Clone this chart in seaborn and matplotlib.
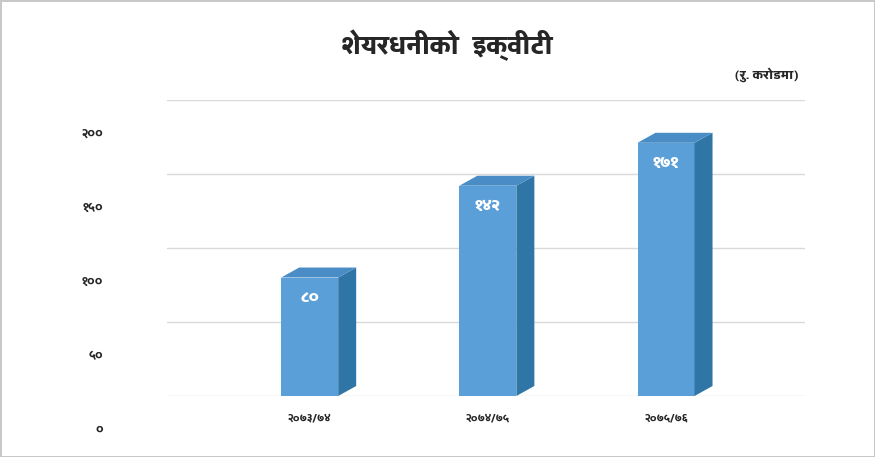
import matplotlib
matplotlib.use('Agg')
import matplotlib.pyplot as plt
import seaborn as sns
import pandas as pd
from matplotlib.patches import Polygon
from matplotlib.transforms import IdentityTransform, ScaledTranslation
from matplotlib.ticker import FuncFormatter

# data
years = ['२०७३/७४', '२०७४/७५', '२०७५/७६']
equity = [80, 142, 171]
y_ticks = [0, 50, 100, 150, 200]

title = 'शेयरधनीको  इक्वीटी'
unit = '(रु. करोडमा)'

nep = str.maketrans('0123456789', '०१२३४५६७८९')

def to_nep(v):
    return str(int(round(v))).translate(nep)

sns.set_style('white')
plt.rcParams['font.family'] = ['Yantramanav', 'Noto Sans Devanagari', 'DejaVu Sans']
plt.rcParams['font.weight'] = 'bold'

front = '#5b9fd8'
side = '#2f76a6'
top = '#4a8dc6'

df = pd.DataFrame({'year': years, 'equity': equity})

fig = plt.figure(figsize=(8.75, 4.57), dpi=100)
fig.patch.set_edgecolor('#c8c8c8')
fig.patch.set_linewidth(2)
ax = fig.add_axes([0.191, 0.1335, 0.729, 0.648])

sns.barplot(data=df, x='year', y='equity', color=front, saturation=1,
            width=0.32, linewidth=0, edgecolor='none', ax=ax, zorder=3)

ax.set_xlim(-0.80, 2.78)
ax.set_ylim(0, 200)
ax.set_yticks(y_ticks)
ax.yaxis.set_major_formatter(FuncFormatter(lambda v, p: to_nep(v)))
ax.grid(axis='y', color='#d9d9d9', linewidth=1, zorder=0)
ax.set_axisbelow(True)
sns.despine(ax=ax, left=True, bottom=True)
ax.set_xlabel('')
ax.set_ylabel('')
ax.tick_params(axis='y', length=0, pad=46, labelsize=10)
ax.tick_params(axis='x', length=0, pad=12, labelsize=9)

# fake 3D depth on each bar
dx, dy = 18, 10
for p in ax.patches:
    x0, y0 = p.get_x(), p.get_y()
    x1, y1 = x0 + p.get_width(), y0 + p.get_height()
    (a0, b0), (a1, b1) = ax.transData.transform([(x0, y0), (x1, y1)])
    side_pts = [(a1, b0), (a1, b1), (a1 + dx, b1 + dy), (a1 + dx, b0 + dy)]
    top_pts = [(a0, b1), (a1, b1), (a1 + dx, b1 + dy), (a0 + dx, b1 + dy)]
    ax.add_patch(Polygon(side_pts, closed=True, facecolor=side, edgecolor='none',
                         transform=IdentityTransform(), clip_on=False, zorder=4))
    ax.add_patch(Polygon(top_pts, closed=True, facecolor=top, edgecolor='none',
                         transform=IdentityTransform(), clip_on=False, zorder=4))

ax.bar_label(ax.containers[0], labels=[to_nep(v) for v in equity],
             padding=-21, color='white', fontsize=13, fontweight='black')

# value labels sit lower than the gridlines in the original (3D chart)
shift = ScaledTranslation(0, -0.33, fig.dpi_scale_trans)
for t in ax.yaxis.get_major_ticks():
    t.label1.set_transform(t.label1.get_transform() + shift)

fig.text(0.511, 0.90, title, ha='center', va='center', fontsize=19, fontweight='black')
fig.text(0.914, 0.836, unit, ha='right', va='center', fontsize=9.5, fontweight='black')

fig.savefig('out.png', dpi=100, edgecolor=fig.get_edgecolor())
